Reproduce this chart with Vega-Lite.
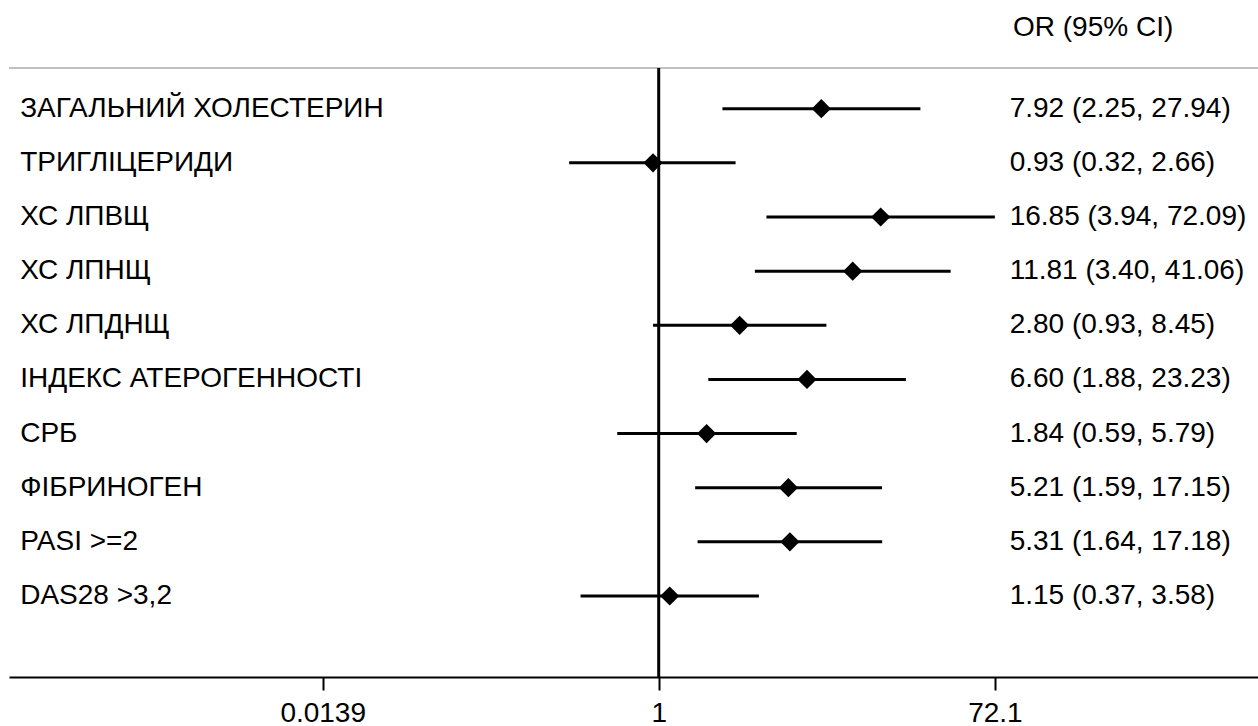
{
  "$schema": "https://vega.github.io/schema/vega-lite/v6.json",
  "width": 1249,
  "height": 677,
  "autosize": {"type": "none"},
  "padding": {"left": 9, "top": 0, "right": 0, "bottom": 49},
  "background": "white",
  "config": {
    "view": {"stroke": null},
    "font": "Liberation Sans",
    "axisX": {
      "grid": false,
      "domainColor": "black",
      "domainWidth": 2,
      "tickColor": "black",
      "tickWidth": 2,
      "tickSize": 13,
      "labelFont": "Liberation Sans",
      "labelFontSize": 28,
      "labelColor": "black",
      "labelPadding": 9,
      "labelFlush": false,
      "labelOverlap": false
    }
  },
  "data": {
    "values": [
      {"row": 1, "label": "ЗАГАЛЬНИЙ ХОЛЕСТЕРИН", "or": 7.92, "lo": 2.25, "hi": 27.94, "ci": "7.92 (2.25, 27.94)"},
      {"row": 2, "label": "ТРИГЛІЦЕРИДИ", "or": 0.93, "lo": 0.32, "hi": 2.66, "ci": "0.93 (0.32, 2.66)"},
      {"row": 3, "label": "ХС ЛПВЩ", "or": 16.85, "lo": 3.94, "hi": 72.09, "ci": "16.85 (3.94, 72.09)"},
      {"row": 4, "label": "ХС ЛПНЩ", "or": 11.81, "lo": 3.40, "hi": 41.06, "ci": "11.81 (3.40, 41.06)"},
      {"row": 5, "label": "ХС ЛПДНЩ", "or": 2.80, "lo": 0.93, "hi": 8.45, "ci": "2.80 (0.93, 8.45)"},
      {"row": 6, "label": "ІНДЕКС АТЕРОГЕННОСТІ", "or": 6.60, "lo": 1.88, "hi": 23.23, "ci": "6.60 (1.88, 23.23)"},
      {"row": 7, "label": "СРБ", "or": 1.84, "lo": 0.59, "hi": 5.79, "ci": "1.84 (0.59, 5.79)"},
      {"row": 8, "label": "ФІБРИНОГЕН", "or": 5.21, "lo": 1.59, "hi": 17.15, "ci": "5.21 (1.59, 17.15)"},
      {"row": 9, "label": "PASI >=2", "or": 5.31, "lo": 1.64, "hi": 17.18, "ci": "5.31 (1.64, 17.18)"},
      {"row": 10, "label": "DAS28 >3,2", "or": 1.15, "lo": 0.37, "hi": 3.58, "ci": "1.15 (0.37, 3.58)"}
    ]
  },
  "layer": [
    {
      "data": {"values": [{"k": 0}]},
      "mark": {"type": "rule", "color": "#c0c0c0", "strokeWidth": 2},
      "encoding": {
        "y": {"datum": 0.248, "type": "quantitative", "scale": {"domain": [-1.008, 11.496], "reverse": true, "nice": false, "zero": false}, "axis": null}
      }
    },
    {
      "data": {"values": [{"k": 0}]},
      "mark": {"type": "rule", "color": "black", "strokeWidth": 3},
      "encoding": {
        "x": {"datum": 1, "type": "quantitative", "title": null},
        "y": {"datum": 0.248, "type": "quantitative", "axis": null},
        "y2": {"datum": 11.496}
      }
    },
    {
      "mark": {"type": "rule", "color": "black", "strokeWidth": 3},
      "encoding": {
        "x": {
          "field": "lo", "type": "quantitative", "title": null,
          "scale": {"type": "log", "domain": [0.0002567, 2051], "nice": false, "zero": false},
          "axis": {"values": [0.0139, 1, 72.1], "format": "~g", "title": null}
        },
        "x2": {"field": "hi"},
        "y": {"field": "row", "type": "quantitative", "axis": null}
      }
    },
    {
      "mark": {"type": "point", "shape": "diamond", "filled": true, "size": 370, "color": "black", "opacity": 1},
      "encoding": {
        "x": {"field": "or", "type": "quantitative", "title": null},
        "y": {"field": "row", "type": "quantitative", "axis": null}
      }
    },
    {
      "mark": {"type": "text", "align": "left", "baseline": "middle", "fontSize": 28, "color": "black", "font": "Liberation Sans"},
      "encoding": {
        "x": {"datum": 0.000296, "type": "quantitative", "title": null},
        "y": {"field": "row", "type": "quantitative", "axis": null},
        "text": {"field": "label"}
      }
    },
    {
      "mark": {"type": "text", "align": "left", "baseline": "middle", "fontSize": 28, "color": "black", "font": "Liberation Sans"},
      "encoding": {
        "x": {"datum": 87, "type": "quantitative", "title": null},
        "y": {"field": "row", "type": "quantitative", "axis": null},
        "text": {"field": "ci"}
      }
    },
    {
      "data": {"values": [{"k": 0}]},
      "mark": {"type": "text", "align": "left", "baseline": "middle", "fontSize": 28, "color": "black", "font": "Liberation Sans"},
      "encoding": {
        "x": {"datum": 90.8, "type": "quantitative", "title": null},
        "y": {"datum": -0.5, "type": "quantitative", "axis": null},
        "text": {"value": "OR (95% CI)"}
      }
    }
  ]
}
